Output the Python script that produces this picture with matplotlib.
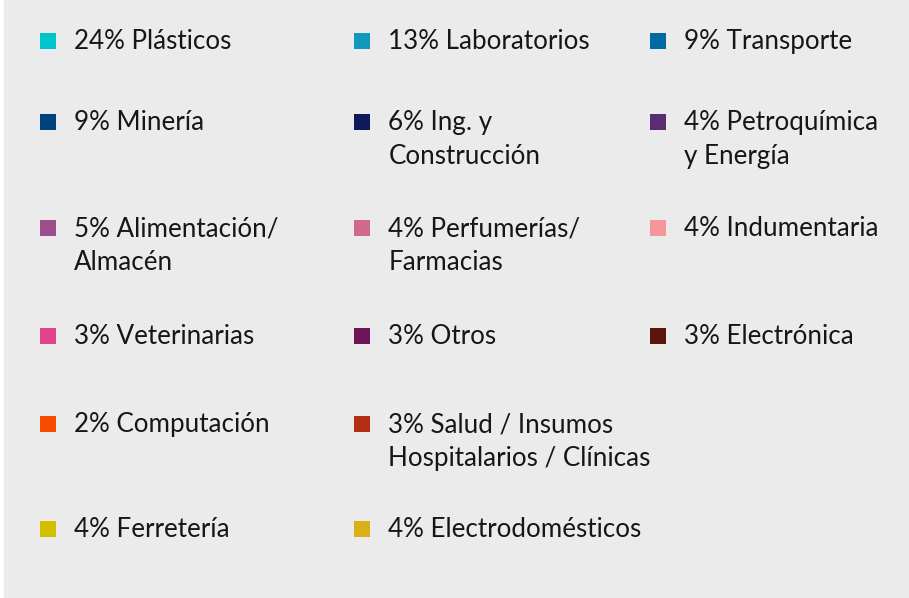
import matplotlib
matplotlib.use("Agg")
import matplotlib.pyplot as plt
from matplotlib.patches import Rectangle

# data
values = [24, 13, 9, 9, 6, 4, 5, 4, 4, 3, 3, 3, 2, 3, 4, 4]
names = ["Plásticos", "Laboratorios", "Transporte",
         "Minería", "Ing. y\nConstrucción", "Petroquímica\ny Energía",
         "Alimentación/\nAlmacén", "Perfumerías/\nFarmacias", "Indumentaria",
         "Veterinarias", "Otros", "Electrónica",
         "Computación", "Salud / Insumos\nHospitalarios / Clínicas",
         "Ferretería", "Electrodomésticos"]
colors = ["#00C3CB", "#1199BB", "#006BA3",
          "#00417F", "#0F1A5A", "#5B2C6F",
          "#9C4D8C", "#CF6A8C", "#F4969A",
          "#E0458A", "#6E1457", "#58150C",
          "#F44B00", "#B32E12",
          "#D4BE00", "#D9B016"]

# grid slot of each entry (row, column)
slot_row = [0, 0, 0, 1, 1, 1, 2, 2, 2, 3, 3, 3, 4, 4, 5, 5]
slot_col = [0, 1, 2, 0, 1, 2, 0, 1, 2, 0, 1, 2, 0, 1, 0, 1]

# layout (pixels)
col_x = [47.5, 362, 658]
row_y = [40.5, 121.5, 227.5, 335.5, 423.5, 528.5]
line_h = 34

fig = plt.figure(figsize=(9.09, 5.98), dpi=100)
ax = fig.add_axes([0, 0, 1, 1])
ax.set_xlim(0, 909)
ax.set_ylim(598, 0)
ax.axis("off")
ax.add_patch(Rectangle((4, 0), 904, 598, color="#EBEBEB", zorder=0))

for i, (v, n, c) in enumerate(zip(values, names, colors)):
    x = col_x[slot_col[i]]
    y = row_y[slot_row[i]]
    ax.scatter([x], [y], marker="s", s=117, color=c, linewidths=0, zorder=2)
    lines = (f"{v}% " + n).split("\n")
    for j, line in enumerate(lines):
        ax.text(x + 26.5, y + 8.5 + j * line_h, line, fontsize=18.7,
                family="Lato", weight="normal", color="#161616",
                ha="left", va="baseline")

fig.savefig("out.png", dpi=100)
